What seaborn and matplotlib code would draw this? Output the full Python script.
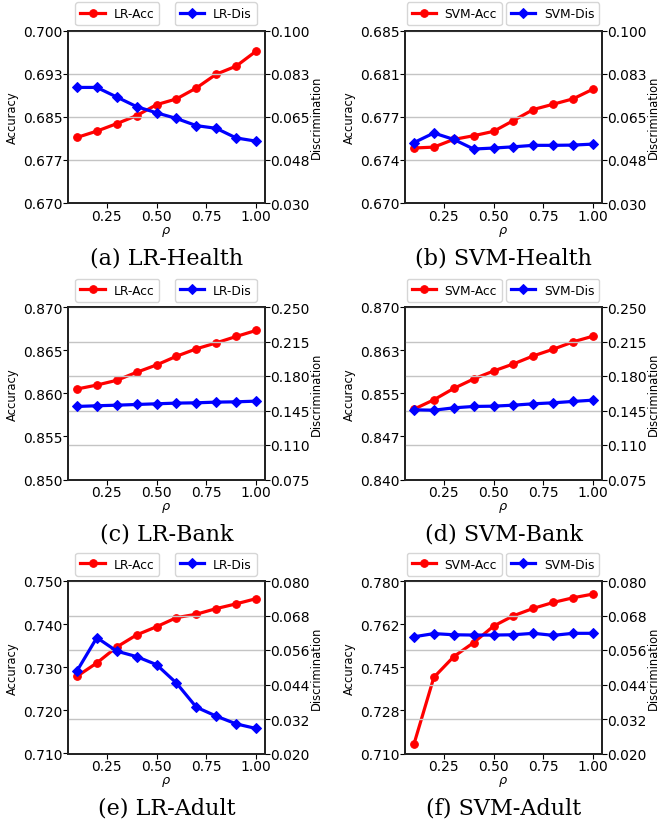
import numpy as np
import matplotlib
matplotlib.use("Agg")
import matplotlib.pyplot as plt
import seaborn as sns

# rho values shared by every panel
rho = [0.1, 0.2, 0.3, 0.4, 0.5, 0.6, 0.7, 0.8, 0.9, 1.0]

captions = ["(a) LR-Health", "(b) SVM-Health", "(c) LR-Bank",
            "(d) SVM-Bank", "(e) LR-Adult", "(f) SVM-Adult"]
models = ["LR", "SVM", "LR", "SVM", "LR", "SVM"]

# accuracy (left axis)
acc_lr_health = [0.6814, 0.6825, 0.6838, 0.6852, 0.6871, 0.6881, 0.6900, 0.6924, 0.6938, 0.6964]
acc_svm_health = [0.67478, 0.67486, 0.67553, 0.67585, 0.67623, 0.67717, 0.67813, 0.67859, 0.67906, 0.67990]
acc_lr_bank = [0.86049, 0.86095, 0.86150, 0.86243, 0.86328, 0.86429, 0.86515, 0.86584, 0.86658, 0.86728]
acc_svm_bank = [0.85223, 0.85386, 0.85584, 0.85748, 0.85887, 0.86010, 0.86150, 0.86266, 0.86394, 0.86493]
acc_lr_adult = [0.7279, 0.7310, 0.7347, 0.7375, 0.7394, 0.7415, 0.7423, 0.7436, 0.7447, 0.7459]
acc_svm_adult = [0.7138, 0.7409, 0.7493, 0.7550, 0.7617, 0.7659, 0.7689, 0.7713, 0.7732, 0.7747]

# discrimination (right axis)
dis_lr_health = [0.0769, 0.0769, 0.0730, 0.0691, 0.0666, 0.0643, 0.0614, 0.0603, 0.0564, 0.0551]
dis_svm_health = [0.0545, 0.0584, 0.0558, 0.0519, 0.0523, 0.0528, 0.0534, 0.0534, 0.0535, 0.0539]
dis_lr_bank = [0.1491, 0.1498, 0.1504, 0.1511, 0.1518, 0.1525, 0.1528, 0.1535, 0.1538, 0.1545]
dis_svm_bank = [0.1457, 0.1453, 0.1477, 0.1491, 0.1494, 0.1504, 0.1518, 0.1528, 0.1542, 0.1555]
dis_lr_adult = [0.0487, 0.0603, 0.0556, 0.0537, 0.0509, 0.0445, 0.0361, 0.0330, 0.0303, 0.0287]
dis_svm_adult = [0.0606, 0.0617, 0.0613, 0.0612, 0.0612, 0.0613, 0.0618, 0.0611, 0.0618, 0.0618]

accs = [acc_lr_health, acc_svm_health, acc_lr_bank, acc_svm_bank, acc_lr_adult, acc_svm_adult]
diss = [dis_lr_health, dis_svm_health, dis_lr_bank, dis_svm_bank, dis_lr_adult, dis_svm_adult]

# axis limits and tick labels
acc_lims = [(0.670, 0.700), (0.670, 0.685), (0.850, 0.870),
            (0.840, 0.870), (0.710, 0.750), (0.710, 0.780)]
dis_lims = [(0.030, 0.100), (0.030, 0.100), (0.075, 0.250),
            (0.075, 0.250), (0.020, 0.080), (0.020, 0.080)]
acc_ticklabels = [
    ['0.670', '0.677', '0.685', '0.693', '0.700'],
    ['0.670', '0.674', '0.677', '0.681', '0.685'],
    ['0.850', '0.855', '0.860', '0.865', '0.870'],
    ['0.840', '0.847', '0.855', '0.863', '0.870'],
    ['0.710', '0.720', '0.730', '0.740', '0.750'],
    ['0.710', '0.728', '0.745', '0.762', '0.780'],
]
dis_ticklabels = [
    ['0.030', '0.048', '0.065', '0.083', '0.100'],
    ['0.030', '0.048', '0.065', '0.083', '0.100'],
    ['0.075', '0.110', '0.145', '0.180', '0.215', '0.250'],
    ['0.075', '0.110', '0.145', '0.180', '0.215', '0.250'],
    ['0.020', '0.032', '0.044', '0.056', '0.068', '0.080'],
    ['0.020', '0.032', '0.044', '0.056', '0.068', '0.080'],
]
x_ticks = [0.25, 0.50, 0.75, 1.00]
x_ticklabels = ['0.25', '0.50', '0.75', '1.00']

#########################
W, H = 660, 828
fig = plt.figure(figsize=(W / 100, H / 100), dpi=100)

col_left = [68, 405]
row_top = [31.5, 308, 582]
ax_w, ax_h = 197, 172.5

tick_fs = 10
label_fs = 8.3
leg_fs = 8.8

for i in range(6):
    r, c = divmod(i, 2)
    left = col_left[c] / W
    bottom = 1 - (row_top[r] + ax_h) / H
    ax1 = fig.add_axes([left, bottom, ax_w / W, ax_h / H])
    ax2 = ax1.twinx()

    sns.lineplot(x=rho, y=accs[i], ax=ax1, color='red', marker='o',
                 markersize=5.5, markeredgecolor='red', linewidth=2.3,
                 label=models[i] + '-Acc', legend=False)
    sns.lineplot(x=rho, y=diss[i], ax=ax2, color='blue', marker='D',
                 markersize=5, markeredgecolor='blue', linewidth=2.3,
                 label=models[i] + '-Dis', legend=False)

    ax1.set_ylim(*acc_lims[i])
    ax1.set_yticks(np.linspace(acc_lims[i][0], acc_lims[i][1], len(acc_ticklabels[i])))
    ax1.set_yticklabels(acc_ticklabels[i])
    ax2.set_ylim(*dis_lims[i])
    ax2.set_yticks(np.linspace(dis_lims[i][0], dis_lims[i][1], len(dis_ticklabels[i])))
    ax2.set_yticklabels(dis_ticklabels[i])

    ax1.set_xticks(x_ticks)
    ax1.set_xticklabels(x_ticklabels)
    for ax in (ax1, ax2):
        ax.tick_params(labelsize=tick_fs, length=3.5, pad=0.5)
    ax1.set_xlabel(r'$\rho$', fontsize=label_fs + 1, labelpad=1)
    ax1.set_ylabel('Accuracy', fontsize=label_fs, labelpad=3)
    ax2.set_ylabel('Discrimination', fontsize=label_fs, labelpad=0)

    ax2.grid(axis='y', color='#c4c4c4', linewidth=1.0)
    for ax in (ax1, ax2):
        for sp in ax.spines.values():
            sp.set_linewidth(1.3)
            sp.set_color('#222222')

    h1, l1 = ax1.get_legend_handles_labels()
    h2, l2 = ax2.get_legend_handles_labels()
    leg1 = ax2.legend(h1, l1, loc='lower center', bbox_to_anchor=(0.25, 1.0),
                      fontsize=leg_fs, borderaxespad=0.45, handletextpad=0.7)
    ax2.add_artist(leg1)
    ax2.legend(h2, l2, loc='lower center', bbox_to_anchor=(0.75, 1.0),
               fontsize=leg_fs, borderaxespad=0.45, handletextpad=0.7)

    cx = (col_left[c] + ax_w / 2) / W
    cy = 1 - (row_top[r] + ax_h + 54) / H
    fig.text(cx, cy, captions[i], ha='center', va='center',
             fontsize=16, family='DejaVu Serif')

fig.savefig('out.png', dpi=100)
